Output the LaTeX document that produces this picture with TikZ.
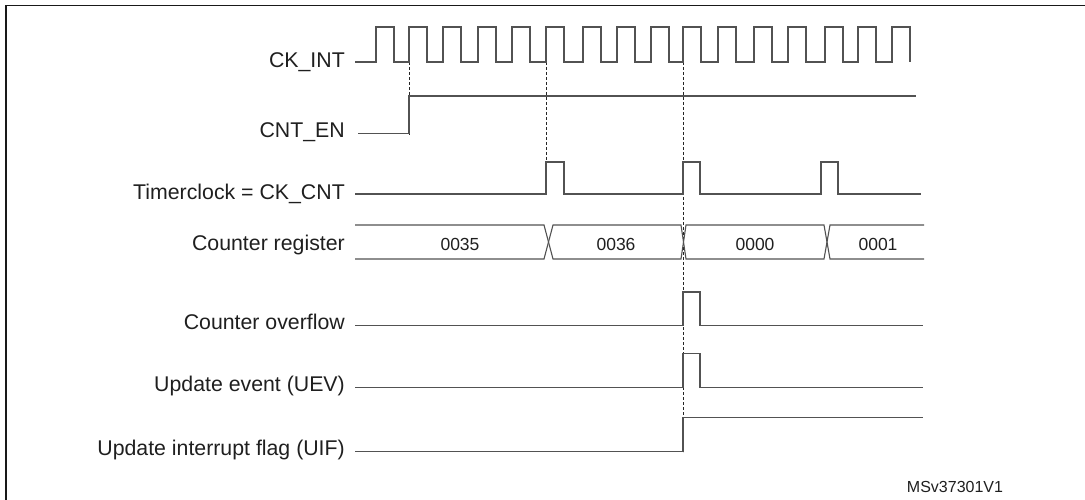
\documentclass[tikz,border=0pt]{standalone}
\usepackage{fontspec}
\setmainfont{Liberation Sans}
\begin{document}
\begin{tikzpicture}[x=1pt,y=-1pt,
  lbl/.style={anchor=base east, inner sep=0pt, font=\fontsize{21.3}{25}\selectfont, text=black!88},
  val/.style={anchor=base, inner sep=0pt, font=\fontsize{17.5}{20}\selectfont, text=black!88},
  wave/.style={draw=black!68, line width=1.1pt, line join=miter},
  guide/.style={draw=black!85, line width=0.9pt, dash pattern=on 3pt off 2pt},
  frameline/.style={draw=black!90, line width=1.8pt}]
\useasboundingbox (0,0) rectangle (1085,500);
\draw[frameline] (6,502) -- (6,5.5) -- (1087,5.5);

% labels
\node[lbl] (lckint) at (345,67.7) {CK\_INT};
\node[lbl] (lcnten) at (345,137.3) {CNT\_EN};
\node[lbl] (ltclk)  at (345,199.3) {Timerclock = CK\_CNT};
\node[lbl] (lreg)   at (345,250.7) {Counter register};
\node[lbl] (lovf)   at (345,329.8) {Counter overflow};
\node[lbl] (luev)   at (345,391.2) {Update event (UEV)};
\node[lbl] (luif)   at (345,455.7) {Update interrupt flag (UIF)};

% dashed guides
\coordinate (g1a) at (409,62);  \coordinate (g1b) at (409,136);
\coordinate (g2a) at (546,62);  \coordinate (g2b) at (546,194);
\coordinate (g3a) at (683,62);  \coordinate (g3b) at (683,452);
\draw[guide] (g1a) -- (g1b);
\draw[guide] (g2a) -- (g2b);
\draw[guide] (g3a) -- (g3b);

% CK_INT
\draw[wave] (355,62)
  foreach \r in {376,409,443,478,512,546,583,617,651,683,718,754,788,825,858,892}
  { -- (\r,62) -- (\r,27) -- ({\r+18},27) -- ({\r+18},62) };

% CNT_EN
\draw[wave] (358,133.3) -- (409,133.3) -- (409,96) -- (916,96);

% Timerclock
\draw[wave] (355,194) -- (546,194) -- (546,162) -- (564,162) -- (564,194)
  -- (683,194) -- (683,162) -- (700,162) -- (700,194)
  -- (821,194) -- (821,162) -- (838,162) -- (838,194) -- (921,194);

% Counter register
\draw[wave] (355,225) -- (544,225) -- (553,259) -- (681,259) -- (686,225) -- (824,225) -- (830,259) -- (924,259);
\draw[wave] (355,259) -- (544,259) -- (553,225) -- (681,225) -- (686,259) -- (824,259) -- (830,225) -- (924,225);
\node[val] (v35) at (460,250) {0035};
\node[val] (v36) at (616,250) {0036};
\node[val] (v00) at (755,250) {0000};
\node[val] (v01) at (878,250) {0001};

% Counter overflow
\draw[wave] (355,325.7) -- (683,325.7) -- (683,292) -- (700,292) -- (700,325.7) -- (923,325.7);
% UEV
\draw[wave] (355,387.7) -- (683,387.7) -- (683,353.7) -- (700,353.7) -- (700,387.7) -- (923,387.7);
% UIF
\draw[wave] (355,451.7) -- (683,451.7) -- (683,417.3) -- (923,417.3);

\node[anchor=base, inner sep=0pt, font=\fontsize{16}{19}\selectfont, text=black!88] (ref) at (955,492.3) {MSv37301V1};
\end{tikzpicture}
\end{document}
